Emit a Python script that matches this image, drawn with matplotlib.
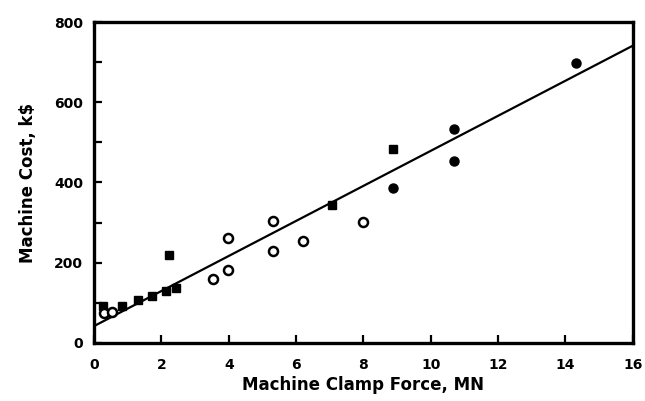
import matplotlib
matplotlib.use("Agg")
import matplotlib.pyplot as plt
from matplotlib.ticker import MultipleLocator

# filled markers (squares and dots)
filled_sq_x = [0.26, 0.84, 1.29, 1.73, 2.12, 2.44, 2.21, 7.07, 8.88]
filled_sq_y = [91, 92, 106, 116, 130, 137, 218, 345, 484]
filled_dot_x = [8.88, 10.68, 10.68, 14.3]
filled_dot_y = [387, 534, 453, 699]

# open markers
open_x = [0.3, 0.52, 3.54, 3.98, 3.98, 5.3, 5.3, 6.19, 8.0]
open_y = [74, 78, 159, 181, 262, 303, 228, 253, 301]

# fitted trend line
line_x = [0, 16]
line_y = [42, 741]

plt.rcParams["font.family"] = ["DejaVu Sans"]
plt.rcParams["font.weight"] = "bold"

fig = plt.figure(figsize=(6.45, 4.01), dpi=100)
ax = fig.add_axes([0.146, 0.145, 0.835, 0.80])

ax.plot(line_x, line_y, color="black", lw=1.6, zorder=2)
ax.plot(filled_sq_x, filled_sq_y, "s", color="black", ms=6, zorder=3)
ax.plot(filled_dot_x, filled_dot_y, "o", color="black", ms=6.5, zorder=3)
ax.plot(open_x, open_y, "o", markerfacecolor="white", markeredgecolor="black",
        mew=1.8, ms=6.5, zorder=3)

ax.set_xlim(0, 16)
ax.set_ylim(0, 800)
ax.xaxis.set_major_locator(MultipleLocator(2))
ax.yaxis.set_major_locator(MultipleLocator(200))
ax.yaxis.set_minor_locator(MultipleLocator(100))

ax.tick_params(which="both", direction="in", length=6, width=1.6,
               labelsize=10, top=False, right=False)
ax.tick_params(axis="x", pad=11)
ax.tick_params(axis="y", pad=8)
for lab in ax.get_xticklabels() + ax.get_yticklabels():
    lab.set_fontweight("bold")

for s in ax.spines.values():
    s.set_linewidth(2.4)

ax.set_xlabel("Machine Clamp Force, MN", fontsize=12, fontweight="bold", labelpad=3)
ax.set_ylabel("Machine Cost, k$", fontsize=12, fontweight="bold", labelpad=12)

fig.savefig("out.png", dpi=100)
